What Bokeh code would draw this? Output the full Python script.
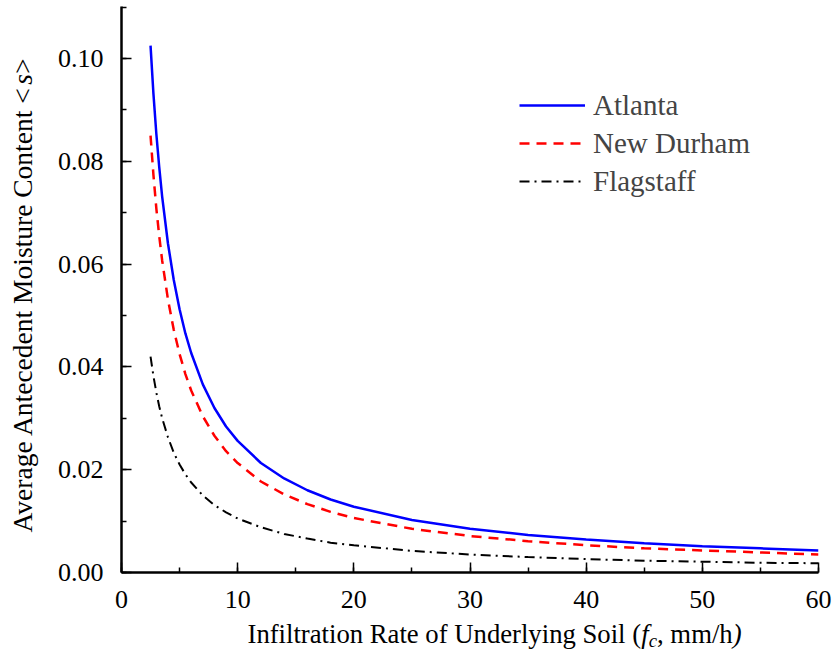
import math
from bokeh.plotting import figure
from bokeh.layouts import row, column
from bokeh.core.properties import value
from bokeh.models import Range1d, SingleIntervalTicker, NumeralTickFormatter, Legend, LegendItem
from bokeh.embed import file_html
from bokeh.resources import INLINE

# Data
fc = [2.5, 2.75, 3, 3.25, 3.5, 4, 4.5, 5, 5.5, 6, 7, 8, 9, 10, 12, 14, 16, 18, 20, 25, 30, 35, 40, 45, 50, 55, 60]
atlanta = [0.1025, 0.0931, 0.0853, 0.0788, 0.0731, 0.0640, 0.0569, 0.0512, 0.0465, 0.0427, 0.0366, 0.0320, 0.0284,
           0.0256, 0.0213, 0.0183, 0.0160, 0.0142, 0.0128, 0.0102, 0.0085, 0.0073, 0.0064, 0.0057, 0.0051, 0.0047, 0.0043]
new_durham = [0.0850, 0.0773, 0.0708, 0.0654, 0.0607, 0.0531, 0.0472, 0.0425, 0.0386, 0.0354, 0.0304, 0.0266, 0.0236,
              0.0213, 0.0177, 0.0152, 0.0133, 0.0118, 0.0106, 0.0085, 0.0071, 0.0061, 0.0053, 0.0047, 0.0043, 0.0039, 0.0035]
flagstaff = [0.0420, 0.0382, 0.0350, 0.0323, 0.0300, 0.0263, 0.0233, 0.0210, 0.0191, 0.0175, 0.0150, 0.0131, 0.0117,
             0.0105, 0.0088, 0.0075, 0.0066, 0.0058, 0.0053, 0.0042, 0.0035, 0.0030, 0.0026, 0.0023, 0.0021, 0.0019, 0.0018]
series_names = ["Atlanta", "New Durham", "Flagstaff"]

FONT = "Liberation Serif"

# layout constants (page pixels)
W, H = 833, 650
FL, FR, FT, FB = 121, 818, 6, 572      # plot frame
YLAB_W = 45                            # strip holding the y title
MAIN_H = 620                           # main figure height; x title strip below

# ---------------- main plot ----------------
p = figure(width=W - YLAB_W, height=MAIN_H, output_backend="svg", toolbar_location=None,
           x_range=Range1d(0, 60), y_range=Range1d(0, 0.1101),
           min_border_left=FL - YLAB_W, min_border_right=W - FR, min_border_top=FT,
           min_border_bottom=MAIN_H - FB)
p.outline_line_color = None
p.xgrid.visible = False
p.ygrid.visible = False
p.background_fill_color = "white"
p.border_fill_color = "white"

r1 = p.line(fc, atlanta, line_color="#0000ff", line_width=2.5)
r2 = p.line(fc, new_durham, line_color="#ff0000", line_width=2.5, line_dash="10 7")
r3 = p.line(fc, flagstaff, line_color="black", line_width=2, line_dash="10 5 2 5")

for ax in (p.xaxis[0], p.yaxis[0]):
    ax.axis_line_width = 2.5
    ax.axis_line_color = "black"
    ax.major_tick_in = 10
    ax.major_tick_out = 0
    ax.minor_tick_in = 5
    ax.minor_tick_out = 0
    ax.major_tick_line_width = 1.5
    ax.minor_tick_line_width = 1.5
    ax.major_tick_line_color = "black"
    ax.minor_tick_line_color = "black"
    ax.major_label_text_font = FONT
    ax.major_label_text_font_size = "26px"
    ax.major_label_text_color = "black"

p.xaxis[0].ticker = SingleIntervalTicker(interval=10, num_minor_ticks=2)
p.yaxis[0].ticker = SingleIntervalTicker(interval=0.02, num_minor_ticks=2)
p.yaxis[0].formatter = NumeralTickFormatter(format="0.00")
p.xaxis[0].major_label_standoff = 18
p.yaxis[0].major_label_standoff = 18

legend = Legend(items=[LegendItem(label=series_names[0], renderers=[r1]),
                       LegendItem(label=series_names[1], renderers=[r2]),
                       LegendItem(label=series_names[2], renderers=[r3])],
                location=(398, 372), padding=0, margin=0, spacing=0,
                glyph_width=66, glyph_height=38, label_height=38, label_standoff=8,
                label_text_font=FONT, label_text_font_size="29px",
                border_line_color=None, background_fill_alpha=0)
p.add_layout(legend)


# ---------------- title strips ----------------
def strip(w, h, yr):
    f = figure(width=w, height=h, output_backend="svg", toolbar_location=None,
               x_range=Range1d(0, w), y_range=Range1d(*yr),
               x_axis_location=None, y_axis_location=None,
               min_border_left=0, min_border_right=0, min_border_top=0, min_border_bottom=0)
    f.outline_line_color = None
    f.xgrid.visible = False
    f.ygrid.visible = False
    f.background_fill_color = "white"
    f.border_fill_color = "white"
    return f


def add_text(f, ox, oy, txt, px, py, size, italic=False, angle=0.0):
    # px, py are page pixels; (ox, oy) is the strip's bottom-left corner in page pixels
    f.text(x=[px - ox], y=[oy - py], text=[txt], angle=angle,
           text_font=value(FONT), text_font_size=value(size),
           text_font_style="italic" if italic else "normal", text_color="black",
           text_align="left", text_baseline="alphabetic")


# x title: Infiltration Rate of Underlying Soil (f_c, mm/h)
xs = strip(W, H - MAIN_H, (0, H - MAIN_H))
XS = 26.7
XB = 642 - 9          # anchor compensating for the renderer's baseline offset
x0 = 247
add_text(xs, 0, H, "Infiltration Rate of Underlying Soil (", x0, XB, f"{XS}px")
add_text(xs, 0, H, "f", x0 + 14.749 * XS, XB, f"{XS}px", italic=True)
add_text(xs, 0, H, "c", x0 + 15.027 * XS, XB + 7, "18.7px", italic=True)
add_text(xs, 0, H, ", mm/h", x0 + 15.027 * XS + 0.444 * 18.7, XB, f"{XS}px")
add_text(xs, 0, H, ")", x0 + 15.027 * XS + 0.444 * 18.7 + 2.834 * XS, XB, f"{XS}px", italic=True)

# y title: Average Antecedent Moisture Content <s>
# (the strip's frame is aligned with the main frame, page y FT..FB)
ys = strip(YLAB_W, MAIN_H, (MAIN_H - FB, MAIN_H - FT))
YS = 27.5
YB = 32 - 10
y0 = 532
add_text(ys, 0, MAIN_H, "Average Antecedent Moisture Content <", YB, y0, f"{YS}px", angle=math.pi / 2)
add_text(ys, 0, MAIN_H, "s", YB, y0 - 16.283 * YS, f"{YS}px", italic=True, angle=math.pi / 2)
add_text(ys, 0, MAIN_H, ">", YB, y0 - 16.672 * YS, f"{YS}px", angle=math.pi / 2)

layout = column(row(ys, p, spacing=0), xs, spacing=0)

open("out.html", "w").write(file_html(layout, INLINE))
